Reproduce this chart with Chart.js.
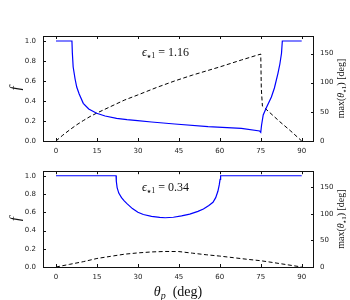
<!DOCTYPE html>
<html lang="en">
<head>
  <meta charset="UTF-8" />
  <meta name="viewport" content="width=device-width, initial-scale=1.0"/>
  <title>f and max(theta) vs theta_p</title>
  <script src="https://cdn.jsdelivr.net/npm/chart.js"></script>
  <style>
    html, body { margin: 0; padding: 0; background: #fff; }
    #wrap { position: relative; width: 350px; height: 300px; }
    .panel { position: absolute; left: 0; width: 350px; }
    #top { top: 0; height: 160px; }
    #bottom { top: 160px; height: 140px; }
  </style>
</head>
<body>
<div id="wrap">
  <div class="panel" id="top"><canvas id="chartTop"></canvas></div>
  <div class="panel" id="bottom"><canvas id="chartBottom"></canvas></div>
</div>

<script>
  // tick labels
  const xTicks = [0, 15, 30, 45, 60, 75, 90];
  const fTicks = [0, 0.2, 0.4, 0.6, 0.8, 1.0];
  const degTicks = [0, 50, 100, 150];

  // top panel, eps = 1.16
  const topFAngles = [0, 5.85, 6.0, 6.3, 7.0, 7.6, 8.5, 10, 12, 14.9, 18, 22.2, 26, 29.9, 35, 43.5, 55.7, 67.9, 74.6, 75.0,
                      75.3, 75.9, 77, 78.9, 80, 81.3, 82, 82.6, 82.9, 90];
  const topFValues = [1, 1, 0.88, 0.74, 0.62, 0.54, 0.47, 0.377, 0.32, 0.277, 0.25, 0.227, 0.213, 0.203, 0.19, 0.17, 0.143, 0.127, 0.10, 0.087,
                      0.16, 0.26, 0.33, 0.44, 0.53, 0.677, 0.77, 0.877, 1, 1];
  const topMaxAngles = [0, 2.5, 5, 7.5, 10, 12.5, 15, 20, 25, 30, 37, 43.5, 50, 60, 68, 75, 75.2, 75.6, 78, 82, 86, 90];
  const topMaxValues = [0, 10, 19, 27.5, 35, 42, 48, 59, 70, 79, 92, 103, 113, 127, 139, 149, 90, 60, 50, 33, 17, 0];

  // bottom panel, eps = 0.34
  const botFAngles = [0, 22, 22.1, 22.4, 23, 24, 25, 26, 28, 30, 32, 35, 38, 40, 43, 46, 49, 52, 54, 56, 57.5, 58.5, 59.3, 59.8, 60.1, 60.3, 90];
  const botFValues = [1, 1, 0.94, 0.87, 0.81, 0.76, 0.725, 0.695, 0.64, 0.60, 0.575, 0.555, 0.543, 0.54, 0.545, 0.56, 0.58, 0.61, 0.635, 0.675, 0.71, 0.76, 0.83, 0.9, 0.96, 1, 1];
  const botMaxAngles = [0, 5, 10, 15, 20, 25, 30, 35, 40, 45, 50, 55, 60, 65, 70, 75, 80, 85, 90];
  const botMaxValues = [0, 5, 10, 16, 20, 24, 26.5, 28.3, 29.2, 29, 26, 23, 20.5, 17.5, 14.5, 11.8, 8, 4, 0];

  const serif = "'Liberation Serif', 'DejaVu Serif', serif";
  const tickFont = { family: 'DejaVu Sans', size: 7 };

  function pts(xs, ys) {
    return xs.map((x, i) => ({ x: x, y: ys[i] }));
  }

  // draws a run of text pieces, some of them as subscripts
  function drawPieces(ctx, pieces, x, y, align) {
    let total = 0;
    pieces.forEach(p => { ctx.font = p.font; total += ctx.measureText(p.text).width; });
    let cx = align === 'center' ? x - total / 2 : x;
    pieces.forEach(p => {
      ctx.font = p.font;
      ctx.fillText(p.text, cx, y + (p.dy || 0));
      cx += ctx.measureText(p.text).width;
    });
  }

  // box, inward ticks and the extra labels
  const framePlugin = {
    id: 'frame',
    afterDatasetsDraw(chart, args, opts) {
      const { ctx, chartArea: a, scales } = chart;
      ctx.save();
      ctx.strokeStyle = '#111';
      ctx.lineWidth = 1;
      ctx.strokeRect(Math.round(a.left) + 0.5, Math.round(a.top) + 0.5,
                     Math.round(a.right - a.left) - 1, Math.round(a.bottom - a.top));
      ctx.beginPath();
      scales.x.ticks.forEach(t => {
        const px = Math.round(scales.x.getPixelForValue(t.value)) + 0.5;
        ctx.moveTo(px, a.bottom); ctx.lineTo(px, a.bottom - 3);
        ctx.moveTo(px, a.top); ctx.lineTo(px, a.top + 3);
      });
      scales.y.ticks.forEach(t => {
        const py = Math.round(scales.y.getPixelForValue(t.value)) + 0.5;
        ctx.moveTo(a.left, py); ctx.lineTo(a.left + 3, py);
      });
      scales.y1.ticks.forEach(t => {
        const py = Math.round(scales.y1.getPixelForValue(t.value)) + 0.5;
        ctx.moveTo(a.right, py); ctx.lineTo(a.right - 3, py);
      });
      ctx.stroke();

      ctx.fillStyle = '#111';
      ctx.textBaseline = 'alphabetic';
      ctx.textAlign = 'left';
      // epsilon annotation
      drawPieces(ctx, [
        { text: 'ϵ', font: 'italic 12px ' + serif },
        { text: '★', font: '5px DejaVu Sans', dy: 2 },
        { text: '1', font: '8px ' + serif, dy: 2 },
        { text: ' = ' + opts.eps, font: '12px ' + serif }
      ], a.left + 99, a.top + 20, 'left');

      // right axis title
      ctx.save();
      ctx.translate(341, (a.top + a.bottom) / 2);
      ctx.rotate(-Math.PI / 2);
      drawPieces(ctx, [
        { text: 'max(', font: '10px ' + serif },
        { text: 'θ', font: 'italic 10px ' + serif },
        { text: '★', font: '4px DejaVu Sans', dy: 2 },
        { text: '1', font: '7px ' + serif, dy: 2 },
        { text: ') [deg]', font: '10px ' + serif }
      ], 0, 3, 'center');
      ctx.restore();

      // x axis title
      if (opts.xTitle) {
        drawPieces(ctx, [
          { text: 'θ', font: 'italic 14px ' + serif },
          { text: 'p', font: 'italic 10px ' + serif, dy: 3 },
          { text: '  (deg)', font: '14px ' + serif }
        ], 178, chart.height - 4, 'center');
      }
      ctx.restore();
    }
  };

  function makeChart(id, fX, fY, mX, mY, eps, padTop, xHeight, xTitle) {
    const ctx = document.getElementById(id).getContext('2d');
    return new Chart(ctx, {
      type: 'line',
      data: {
        datasets: [{
          label: 'f',
          data: pts(fX, fY),
          yAxisID: 'y',
          borderColor: '#0000ff',
          borderWidth: 1.2,
          pointRadius: 0,
          fill: false
        }, {
          label: 'max theta',
          data: pts(mX, mY),
          yAxisID: 'y1',
          borderColor: '#000',
          borderWidth: 1,
          borderDash: [4, 2.5],
          pointRadius: 0,
          fill: false
        }]
      },
      options: {
        responsive: true,
        maintainAspectRatio: false,
        animation: false,
        layout: { padding: { top: padTop, left: 0, right: 0, bottom: 0 } },
        plugins: {
          legend: { display: false },
          tooltip: { enabled: false },
          frame: { eps: eps, xTitle: xTitle }
        },
        scales: {
          x: {
            type: 'linear',
            min: -4.75,
            max: 94.5,
            afterBuildTicks: s => { s.ticks = xTicks.map(v => ({ value: v })); },
            afterFit: s => { s.height = xHeight; },
            grid: { display: false, drawTicks: false },
            border: { display: false },
            ticks: { font: tickFont, color: '#222', padding: 6, maxRotation: 0 }
          },
          y: {
            position: 'left',
            min: 0,
            max: 1.05,
            afterBuildTicks: s => { s.ticks = fTicks.map(v => ({ value: v })); },
            afterFit: s => { s.width = 43; },
            grid: { display: false, drawTicks: false },
            border: { display: false },
            ticks: { font: tickFont, color: '#222', padding: 7, callback: v => v.toFixed(1) },
            title: {
              display: true,
              text: 'f',
              font: { family: serif, style: 'italic', size: 15 },
              color: '#111',
              padding: { top: 7, bottom: 0 }
            }
          },
          y1: {
            position: 'right',
            min: 0,
            max: 180,
            afterBuildTicks: s => { s.ticks = degTicks.map(v => ({ value: v })); },
            afterFit: s => { s.width = 36; },
            grid: { display: false, drawTicks: false },
            border: { display: false },
            ticks: { font: tickFont, color: '#222', padding: 6 }
          }
        }
      },
      plugins: [framePlugin]
    });
  }

  makeChart('chartTop', topFAngles, topFValues, topMaxAngles, topMaxValues, '1.16', 36, 19, false);
  makeChart('chartBottom', botFAngles, botFValues, botMaxAngles, botMaxValues, '0.34', 2, 33, true);
</script>
</body>
</html>
